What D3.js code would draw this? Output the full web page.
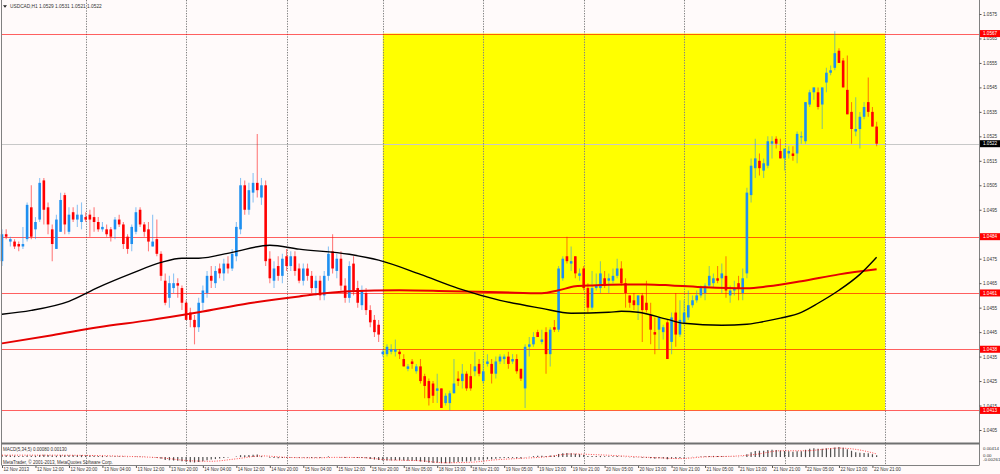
<!DOCTYPE html>
<html><head><meta charset="utf-8">
<script src="https://cdn.jsdelivr.net/npm/d3@7"></script>
<style>body{margin:0;background:#fffafa;overflow:hidden}svg{display:block}</style>
</head><body><svg id="c" width="1000" height="474"></svg>
<script>
// ---------- data ----------
const chartTitle = "USDCAD,H1  1.0529 1.0531 1.0521 1.0522";
const macdTitle = "MACD(5,34,5) 0.00080 0.00130";
const copyright = "MetaTrader, \u00a9 2001-2013, MetaQuotes Software Corp.";
const timeLabelBars = [0,8,16,24,32,40,48,56,64,72,80,88,96,104,112,120,128,136,144,152,160,168,176,184,192,200,208];
const timeLabels = ["12 Nov 2013","12 Nov 12:00","12 Nov 20:00","13 Nov 04:00","13 Nov 12:00","13 Nov 20:00","14 Nov 04:00","14 Nov 12:00","14 Nov 20:00","15 Nov 04:00","15 Nov 12:00","15 Nov 20:00","18 Nov 05:00","18 Nov 13:00","18 Nov 21:00","19 Nov 05:00","19 Nov 13:00","19 Nov 21:00","20 Nov 05:00","20 Nov 13:00","20 Nov 21:00","21 Nov 05:00","21 Nov 13:00","21 Nov 21:00","22 Nov 05:00","22 Nov 13:00","22 Nov 21:00"];
const dayStartBars = [20,44,68,91,115,139,163,187,211];
const priceTicks = [1.0575,1.0565,1.0555,1.0545,1.0535,1.0525,1.0515,1.0505,1.0495,1.0475,1.0465,1.0455,1.0445,1.0435,1.0425,1.0415,1.0405];
const levelPrices = [1.0567,1.0484,1.0461,1.0438,1.0413];
const bidPrice = 1.0522;
const zoneBars = [91,211];
const zonePrices = [1.0567,1.0413];
const macdTicks = [0.00414,0.00,-0.00261];

const opens = [1.0474,1.0485,1.0482,1.0482,1.0481,1.0480,1.0483,1.0496,1.0487,1.0491,
1.0507,1.0496,1.0487,1.0479,1.0486,1.0501,1.0486,1.0494,1.0491,1.0490,
1.0492,1.0493,1.0492,1.0490,1.0487,1.0487,1.0487,1.0487,1.0491,1.0489,
1.0484,1.0481,1.0486,1.0495,1.0489,1.0487,1.0480,1.0483,1.0477,1.0466,
1.0459,1.0463,1.0465,1.0463,1.0457,1.0453,1.0450,1.0447,1.0457,1.0461,
1.0468,1.0465,1.0471,1.0469,1.0473,1.0471,1.0476,1.0487,1.0505,1.0495,
1.0502,1.0506,1.0500,1.0505,1.0475,1.0466,1.0472,1.0468,1.0476,1.0472,
1.0476,1.0471,1.0466,1.0471,1.0468,1.0463,1.0466,1.0460,1.0468,1.0478,
1.0470,1.0475,1.0464,1.0459,1.0473,1.0463,1.0456,1.0461,1.0454,1.0450,
1.0448,1.0436,1.0436,1.0437,1.0437,1.0437,1.0434,1.0430,1.0433,1.0429,
1.0431,1.0427,1.0425,1.0424,1.0421,1.0422,1.0416,1.0416,1.0420,1.0426,
1.0425,1.0428,1.0427,1.0429,1.0432,1.0425,1.0432,1.0432,1.0428,1.0433,
1.0434,1.0435,1.0433,1.0434,1.0430,1.0422,1.0439,1.0440,1.0445,1.0441,
1.0445,1.0436,1.0447,1.0446,1.0467,1.0476,1.0473,1.0476,1.0468,1.0471,
1.0463,1.0455,1.0463,1.0463,1.0467,1.0466,1.0466,1.0468,1.0471,1.0465,
1.0460,1.0458,1.0456,1.0460,1.0457,1.0452,1.0445,1.0446,1.0445,1.0449,
1.0441,1.0453,1.0444,1.0449,1.0451,1.0456,1.0458,1.0460,1.0461,1.0464,
1.0465,1.0467,1.0467,1.0468,1.0460,1.0462,1.0465,1.0461,1.0469,1.0501,
1.0512,1.0515,1.0511,1.0513,1.0522,1.0524,1.0519,1.0516,1.0518,1.0518,
1.0518,1.0525,1.0523,1.0538,1.0543,1.0543,1.0538,1.0547,1.0551,1.0553,
1.0560,1.0556,1.0544,1.0535,1.0527,1.0528,1.0533,1.0539,1.0535,1.0529];
const highs = [1.0487,1.0487,1.0484,1.0483,1.0482,1.0488,1.0498,1.0505,1.0492,1.0508,
1.0508,1.0498,1.0489,1.0493,1.0502,1.0502,1.0496,1.0496,1.0497,1.0498,
1.0494,1.0495,1.0496,1.0492,1.0490,1.0489,1.0488,1.0492,1.0493,1.0490,
1.0485,1.0489,1.0496,1.0496,1.0490,1.0490,1.0493,1.0491,1.0478,1.0469,
1.0468,1.0469,1.0467,1.0464,1.0458,1.0455,1.0452,1.0459,1.0464,1.0470,
1.0472,1.0472,1.0473,1.0475,1.0476,1.0479,1.0490,1.0508,1.0507,1.0506,
1.0510,1.0526,1.0508,1.0507,1.0478,1.0474,1.0476,1.0477,1.0479,1.0478,
1.0478,1.0473,1.0473,1.0473,1.0470,1.0468,1.0468,1.0470,1.0480,1.0485,
1.0477,1.0478,1.0467,1.0474,1.0476,1.0466,1.0464,1.0463,1.0456,1.0452,
1.0450,1.0438,1.0440,1.0440,1.0442,1.0438,1.0436,1.0432,1.0434,1.0432,
1.0434,1.0428,1.0426,1.0425,1.0428,1.0422,1.0420,1.0421,1.0434,1.0429,
1.0432,1.0429,1.0432,1.0437,1.0434,1.0434,1.0436,1.0434,1.0435,1.0436,
1.0436,1.0437,1.0436,1.0436,1.0430,1.0440,1.0443,1.0445,1.0446,1.0446,
1.0447,1.0447,1.0450,1.0472,1.0476,1.0484,1.0480,1.0476,1.0471,1.0472,
1.0465,1.0470,1.0469,1.0474,1.0470,1.0469,1.0471,1.0475,1.0474,1.0467,
1.0460,1.0461,1.0460,1.0461,1.0466,1.0457,1.0451,1.0451,1.0448,1.0450,
1.0453,1.0461,1.0458,1.0458,1.0462,1.0460,1.0462,1.0464,1.0465,1.0472,
1.0469,1.0472,1.0473,1.0476,1.0464,1.0466,1.0468,1.0471,1.0504,1.0516,
1.0524,1.0518,1.0516,1.0525,1.0525,1.0525,1.0524,1.0519,1.0521,1.0521,
1.0527,1.0527,1.0539,1.0544,1.0545,1.0545,1.0545,1.0553,1.0554,1.0568,
1.0561,1.0557,1.0558,1.0539,1.0541,1.0535,1.0539,1.0549,1.0537,1.0531];
const lows = [1.0472,1.0483,1.0480,1.0479,1.0478,1.0479,1.0482,1.0483,1.0483,1.0490,
1.0489,1.0485,1.0474,1.0479,1.0486,1.0485,1.0485,1.0490,1.0488,1.0487,
1.0490,1.0484,1.0486,1.0486,1.0486,1.0484,1.0482,1.0483,1.0488,1.0479,
1.0477,1.0478,1.0485,1.0488,1.0484,1.0478,1.0480,1.0476,1.0466,1.0456,
1.0455,1.0461,1.0459,1.0454,1.0450,1.0447,1.0440,1.0445,1.0454,1.0459,
1.0463,1.0463,1.0467,1.0466,1.0469,1.0470,1.0474,1.0485,1.0493,1.0493,
1.0498,1.0500,1.0497,1.0472,1.0465,1.0463,1.0466,1.0465,1.0470,1.0470,
1.0468,1.0465,1.0464,1.0466,1.0461,1.0460,1.0458,1.0458,1.0466,1.0469,
1.0467,1.0462,1.0457,1.0457,1.0460,1.0455,1.0454,1.0452,1.0447,1.0443,
1.0441,1.0435,1.0435,1.0436,1.0435,1.0434,1.0431,1.0429,1.0430,1.0428,
1.0424,1.0418,1.0415,1.0416,1.0416,1.0414,1.0415,1.0413,1.0420,1.0423,
1.0422,1.0421,1.0421,1.0427,1.0427,1.0424,1.0431,1.0424,1.0426,1.0432,
1.0432,1.0430,1.0432,1.0428,1.0425,1.0414,1.0435,1.0439,1.0443,1.0440,
1.0428,1.0431,1.0445,1.0445,1.0466,1.0473,1.0470,1.0467,1.0466,1.0462,
1.0453,1.0454,1.0462,1.0461,1.0463,1.0461,1.0465,1.0467,1.0464,1.0455,
1.0455,1.0454,1.0450,1.0441,1.0453,1.0440,1.0436,1.0438,1.0442,1.0434,
1.0436,1.0439,1.0443,1.0448,1.0450,1.0455,1.0457,1.0459,1.0458,1.0463,
1.0463,1.0465,1.0461,1.0459,1.0457,1.0460,1.0458,1.0458,1.0467,1.0498,
1.0508,1.0509,1.0508,1.0512,1.0516,1.0520,1.0516,1.0511,1.0516,1.0515,
1.0514,1.0522,1.0522,1.0537,1.0540,1.0536,1.0528,1.0543,1.0550,1.0552,
1.0555,1.0545,1.0534,1.0522,1.0525,1.0520,1.0532,1.0533,1.0529,1.0521];
const closes = [1.0485,1.0484,1.0483,1.0480,1.0480,1.0481,1.0497,1.0484,1.0490,1.0506,
1.0495,1.0489,1.0481,1.0491,1.0499,1.0489,1.0493,1.0491,1.0493,1.0493,
1.0491,1.0491,1.0490,1.0487,1.0488,1.0485,1.0484,1.0491,1.0489,1.0481,
1.0479,1.0488,1.0494,1.0489,1.0486,1.0482,1.0482,1.0477,1.0468,1.0457,
1.0465,1.0465,1.0464,1.0457,1.0450,1.0450,1.0447,1.0457,1.0462,1.0468,
1.0466,1.0470,1.0469,1.0473,1.0471,1.0477,1.0488,1.0505,1.0495,1.0503,
1.0506,1.0503,1.0505,1.0474,1.0467,1.0471,1.0468,1.0475,1.0472,1.0476,
1.0470,1.0466,1.0471,1.0468,1.0463,1.0466,1.0460,1.0468,1.0477,1.0471,
1.0475,1.0464,1.0459,1.0472,1.0462,1.0457,1.0462,1.0454,1.0449,1.0445,
1.0444,1.0437,1.0439,1.0438,1.0438,1.0436,1.0431,1.0431,1.0432,1.0431,
1.0425,1.0423,1.0418,1.0419,1.0422,1.0414,1.0419,1.0420,1.0424,1.0425,
1.0428,1.0422,1.0422,1.0431,1.0428,1.0429,1.0433,1.0428,1.0433,1.0435,
1.0435,1.0432,1.0434,1.0429,1.0426,1.0439,1.0440,1.0443,1.0443,1.0442,
1.0436,1.0446,1.0446,1.0471,1.0475,1.0474,1.0474,1.0469,1.0469,1.0463,
1.0455,1.0463,1.0464,1.0469,1.0464,1.0467,1.0468,1.0471,1.0465,1.0461,
1.0457,1.0456,1.0460,1.0454,1.0454,1.0446,1.0444,1.0451,1.0447,1.0434,
1.0451,1.0444,1.0450,1.0453,1.0456,1.0458,1.0460,1.0463,1.0464,1.0468,
1.0467,1.0466,1.0469,1.0462,1.0462,1.0463,1.0463,1.0467,1.0502,1.0513,
1.0516,1.0512,1.0514,1.0523,1.0523,1.0522,1.0516,1.0520,1.0519,1.0517,
1.0526,1.0525,1.0539,1.0543,1.0545,1.0537,1.0545,1.0551,1.0552,1.0559,
1.0555,1.0545,1.0534,1.0528,1.0528,1.0533,1.0537,1.0535,1.0529,1.0522];

// moving averages read at sample bars: [bar, price]
const maBlack = [[0,1.04523],[7,1.04539],[16,1.04576],[23,1.04633],[31,1.04690],[38,1.04735],[43,1.04752],[47,1.04752],[55,1.04776],[64,1.04805],[71,1.04789],[83,1.04768],[90,1.04744],[100,1.04686],[109,1.04629],[119,1.04580],[129,1.04547],[136,1.04527],[145,1.04531],[148,1.04535],[152,1.04531],[159,1.04502],[163,1.04486],[172,1.04478],[178,1.04482],[181,1.04490],[186,1.04507],[191,1.04531],[195,1.04568],[200,1.04621],[205,1.04686],[209,1.04756]];
const maRed = [[0,1.04404],[12,1.04437],[23,1.04470],[35,1.04498],[47,1.04531],[59,1.04568],[71,1.04596],[83,1.04617],[95,1.04621],[107,1.04617],[119,1.04613],[129,1.04609],[133,1.04621],[137,1.04637],[141,1.04641],[149,1.04645],[154,1.04645],[160,1.04641],[168,1.04633],[178,1.04629],[183,1.04637],[191,1.04658],[200,1.04686],[209,1.04707]];

const macdMain = [.0008,.0008,.0007,.0006,.0005,.0005,.0007,.0006,.0006,.0009,
.0010,.0009,.0007,.0006,.0008,.0008,.0008,.0008,.0008,.0008,
.0007,.0007,.0006,.0005,.0005,.0004,.0003,.0004,.0004,.0003,
.0001,.0001,.0003,.0003,.0002,.0000,-.0001,-.0003,-.0007,-.0012,
-.0013,-.0014,-.0015,-.0017,-.0019,-.0021,-.0022,-.0020,-.0017,-.0013,
-.0010,-.0008,-.0006,-.0004,-.0002,.0000,.0003,.0008,.0008,.0009,
.0010,.0011,.0004,.0000,-.0003,-.0004,-.0005,-.0004,-.0003,-.0002,
-.0002,-.0003,-.0002,-.0003,-.0004,-.0003,-.0004,-.0001,.0003,.0001,
.0001,-.0002,-.0004,-.0001,-.0002,-.0004,-.0004,-.0005,-.0008,-.0010,
-.0012,-.0014,-.0014,-.0014,-.0013,-.0013,-.0014,-.0015,-.0015,-.0016,
-.0018,-.0020,-.0023,-.0024,-.0023,-.0025,-.0025,-.0025,-.0022,-.0020,
-.0018,-.0018,-.0017,-.0014,-.0013,-.0011,-.0009,-.0009,-.0007,-.0005,
-.0004,-.0004,-.0004,-.0005,-.0006,-.0001,.0002,.0004,.0006,.0006,
.0005,.0007,.0007,.0013,.0016,.0017,.0016,.0014,.0012,.0009,
.0005,.0005,.0005,.0005,.0004,.0004,.0004,.0005,.0003,.0001,
-.0001,-.0002,-.0001,-.0003,-.0003,-.0005,-.0007,-.0005,-.0006,-.0009,
-.0006,-.0006,-.0005,-.0003,-.0001,.0001,.0002,.0003,.0004,.0005,
.0005,.0005,.0005,.0003,.0002,.0002,.0001,.0002,.0012,.0020,
.0025,.0026,.0026,.0029,.0030,.0029,.0027,.0025,.0024,.0022,
.0024,.0024,.0030,.0034,.0036,.0034,.0034,.0036,.0036,.0039,
.0041,.0038,.0032,.0026,.0020,.0018,.0017,.0016,.0012,.0008];
const macdSignal = [[0,.0008],[10,.0008],[20,.0007],[30,.0003],[38,-.0003],[45,-.0015],[50,-.0017],[56,-.0007],[62,.0005],[68,-.0001],[75,-.0003],[80,-.0001],[86,-.0002],[92,-.0011],[100,-.0015],[106,-.0023],[112,-.0021],[118,-.0011],[124,-.0005],[130,.0001],[136,.0013],[142,.0010],[150,.0003],[157,-.0003],[162,-.0006],[168,.0001],[175,.0004],[180,.0011],[186,.0026],[192,.0026],[200,.0037],[205,.0029],[209,.0013]];

// ---------- drawing ----------
const svg = d3.select("#c");
const FONT = "'Liberation Sans', Arial, sans-serif";
const plotL = 1.5, plotR = 979.5, mainBottom = 443, macdTop = 445, macdBottom = 465;

const x = d3.scaleLinear().domain([0, 211]).range([2, 885]);
const y = d3.scaleLinear().domain([1.0405, 1.0575]).range([430, 14]);
const ym = d3.scaleLinear().domain([-0.00261, 0.00414]).range([463.5, 447]);

svg.append("rect").attr("width", 1000).attr("height", 474).attr("fill", "#fffafa");

// highlighted zone
svg.append("rect")
  .attr("x", x(zoneBars[0])).attr("width", x(zoneBars[1]) - x(zoneBars[0]))
  .attr("y", y(zonePrices[0])).attr("height", y(zonePrices[1]) - y(zonePrices[0]))
  .attr("fill", "#ffff00");

// bid line
svg.append("line").attr("x1", plotL).attr("x2", plotR)
  .attr("y1", Math.round(y(bidPrice)) + 0.5).attr("y2", Math.round(y(bidPrice)) + 0.5)
  .attr("stroke", "#c8c8c8").attr("stroke-width", 1);

// day separators
svg.append("g").selectAll("line").data(dayStartBars).join("line")
  .attr("x1", d => Math.round(x(d)) + 0.5).attr("x2", d => Math.round(x(d)) + 0.5)
  .attr("y1", 0).attr("y2", macdBottom)
  .attr("stroke", "#808080").attr("stroke-width", 1).attr("stroke-dasharray", "1.3,1.3");

// horizontal level lines
svg.append("g").selectAll("line").data(levelPrices).join("line")
  .attr("x1", plotL).attr("x2", plotR)
  .attr("y1", d => Math.round(y(d)) + 0.5).attr("y2", d => Math.round(y(d)) + 0.5)
  .attr("stroke", "#ff0000").attr("stroke-opacity", 0.62).attr("stroke-width", 1.2);

// candles
const idx = d3.range(opens.length);
const bullC = "#1e8ff0", bearC = "#ff0000";
const cg = svg.append("g");
cg.selectAll("line").data(idx).join("line")
  .attr("x1", i => x(i)).attr("x2", i => x(i))
  .attr("y1", i => y(highs[i])).attr("y2", i => y(lows[i]))
  .attr("stroke", i => closes[i] >= opens[i] ? bullC : bearC)
  .attr("stroke-opacity", 0.5).attr("stroke-width", 1.1);
cg.selectAll("rect").data(idx).join("rect")
  .attr("x", i => x(i) - 1.3).attr("width", 2.6)
  .attr("y", i => y(Math.max(opens[i], closes[i])))
  .attr("height", i => Math.max(1, Math.abs(y(opens[i]) - y(closes[i]))))
  .attr("fill", i => closes[i] >= opens[i] ? bullC : bearC);

// moving averages
const maLine = d3.line().x(d => x(d[0])).y(d => y(d[1])).curve(d3.curveMonotoneX);
svg.append("path").datum(maRed).attr("d", maLine).attr("fill", "none")
  .attr("stroke", "#e60000").attr("stroke-width", 2);
svg.append("path").datum(maBlack).attr("d", maLine).attr("fill", "none")
  .attr("stroke", "#000").attr("stroke-width", 1.4);

// MACD panel
svg.append("g").selectAll("line").data(idx).join("line")
  .attr("x1", i => x(i)).attr("x2", i => x(i))
  .attr("y1", ym(0)).attr("y2", i => ym(macdMain[i]))
  .attr("stroke", "#505050").attr("stroke-width", 1.2);
svg.append("path").datum(macdSignal)
  .attr("d", d3.line().x(d => x(d[0])).y(d => ym(d[1])).curve(d3.curveMonotoneX))
  .attr("fill", "none").attr("stroke", "#ff0000").attr("stroke-opacity", 0.7)
  .attr("stroke-width", 1).attr("stroke-dasharray", "1,1.5");

// frames
const frame = svg.append("g").attr("stroke", "#808080").attr("fill", "none");
frame.append("line").attr("x1", plotL).attr("x2", plotL).attr("y1", 0).attr("y2", macdBottom);
frame.append("line").attr("x1", plotR).attr("x2", plotR).attr("y1", 0).attr("y2", macdBottom);
frame.append("line").attr("x1", plotL).attr("x2", plotR).attr("y1", mainBottom + 0.5).attr("y2", mainBottom + 0.5).attr("stroke-width", 2).attr("stroke", "#707070");
frame.append("line").attr("x1", plotL).attr("x2", plotR).attr("y1", macdBottom + 0.5).attr("y2", macdBottom + 0.5);

// price axis
const pa = svg.append("g").attr("transform", `translate(${plotR},0)`)
  .call(d3.axisRight(y).tickValues(priceTicks).tickSize(2).tickPadding(1.5).tickFormat(d3.format(".4f")));
pa.select(".domain").remove();
pa.selectAll("line").attr("stroke", "#555");
pa.selectAll("text").attr("font-family", FONT).attr("font-size", 4.6).attr("fill", "#333");

// level price labels
const lbl = svg.append("g");
levelPrices.forEach(p => {
  lbl.append("rect").attr("x", plotR + 0.5).attr("y", y(p) - 3.5).attr("width", 20).attr("height", 7).attr("fill", "#ff0000");
  lbl.append("text").attr("x", plotR + 3.5).attr("y", y(p)).attr("dy", "0.35em")
    .attr("font-family", FONT).attr("font-size", 4.6).attr("fill", "#fff").text(d3.format(".4f")(p));
});
lbl.append("rect").attr("x", plotR + 0.5).attr("y", y(bidPrice) - 3.5).attr("width", 20).attr("height", 7).attr("fill", "#000");
lbl.append("text").attr("x", plotR + 3.5).attr("y", y(bidPrice)).attr("dy", "0.35em")
  .attr("font-family", FONT).attr("font-size", 4.6).attr("fill", "#fff").text(d3.format(".4f")(bidPrice));

// MACD axis labels
svg.append("g").selectAll("text").data(macdTicks).join("text")
  .attr("x", plotR + 3.5).attr("y", (d, i) => [448, 455, 459][i]).attr("dy", "0.35em")
  .attr("font-family", FONT).attr("font-size", 4.4).attr("fill", "#333")
  .text(d => d === 0 ? "0.00" : d.toFixed(5));

// time axis
const ta = svg.append("g").attr("transform", `translate(0,${macdBottom + 1})`)
  .call(d3.axisBottom(x).tickValues(timeLabelBars).tickSize(2).tickFormat((d, i) => timeLabels[i]));
ta.select(".domain").remove();
ta.selectAll("line").attr("stroke", "#555");
ta.selectAll("text").attr("text-anchor", "start").attr("x", 1).attr("y", 1.5).attr("dy", "0.71em")
  .attr("font-family", FONT).attr("font-size", 4.5).attr("fill", "#333");

// titles
svg.append("path").attr("d", "M3,5.2 L7,5.2 L5,7.8 Z").attr("fill", "#222");
svg.append("text").attr("x", 10).attr("y", 7.8).attr("font-family", FONT).attr("font-size", 4.8).attr("fill", "#333").text(chartTitle);
svg.append("text").attr("x", 3).attr("y", 450.5).attr("font-family", FONT).attr("font-size", 4.5).attr("fill", "#333").text(macdTitle);
svg.append("text").attr("x", 3).attr("y", 463.5).attr("font-family", FONT).attr("font-size", 4.5).attr("fill", "#333").text(copyright);
</script>
</body></html>
